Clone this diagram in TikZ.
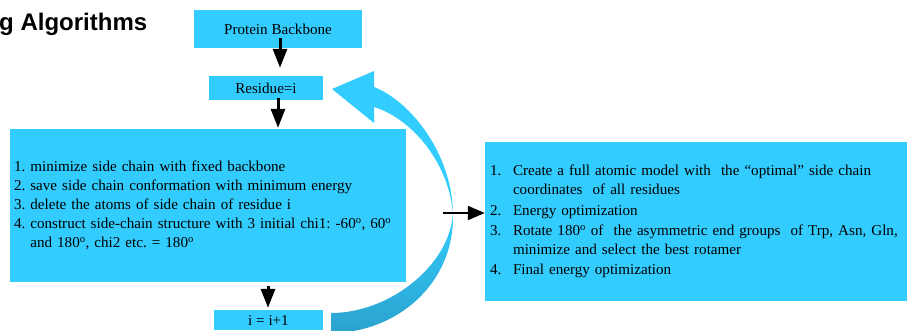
\documentclass[tikz,border=0pt]{standalone}
\usepackage{fontspec}
\setmainfont{Liberation Serif}
\newfontfamily\titlefont{Liberation Sans}
\usetikzlibrary{arrows.meta}
\definecolor{boxblue}{HTML}{33CCFF}
\definecolor{darkblue}{HTML}{2AA2CC}
\frenchspacing
\begin{document}
\begin{tikzpicture}[x=1pt,y=-1pt,
  box/.style={fill=boxblue, draw=none, inner sep=0pt, font=\fontsize{15.1}{18.9}\selectfont\frenchspacing},
  varr/.style={line width=3pt, -{Triangle[length=19pt,width=14pt]}},
  harr/.style={line width=2pt, -{Triangle[length=17pt,width=14pt]}}]
\clip (0,0) rectangle (907,330);
\node[anchor=base west, inner sep=0pt, font=\titlefont\bfseries\fontsize{24}{28}\selectfont] (title) at (-1,30.7) {g Algorithms};
\node[box, minimum width=168pt, minimum height=38pt] (pb) at (278,29) {Protein Backbone};
\node[box, minimum width=114pt, minimum height=24pt] (res) at (266,88) {Residue=i};
\node[box, minimum width=396pt, minimum height=153pt, text width=388pt, align=left] (L) at (208,205.5)
 {1. minimize side chain with fixed backbone\\
  2. save side chain conformation with minimum energy\\
  3. delete the atoms of side chain of residue i\\
  4. construct side-chain structure with 3 initial chi1: -60\textsuperscript{o}, 60\textsuperscript{o}\\
  \hphantom{4.\ }and 180\textsuperscript{o}, chi2 etc. = 180\textsuperscript{o}};
\node[box, minimum width=109pt, minimum height=20pt] (inc) at (268.5,320) {i = i+1};
\node[box, minimum width=422pt, minimum height=159pt, text width=412pt, align=left] (R) at (696,221.5)
 {\makebox[23pt][l]{1.}Create a full atomic model with\ \ the ``optimal'' side chain\\
  \hspace*{23pt}coordinates\ \ of all residues\\[1.4pt]
  \makebox[23pt][l]{2.}Energy optimization\\[1.4pt]
  \makebox[23pt][l]{3.}Rotate 180\textsuperscript{o} of\ \ the asymmetric end groups\ \ of Trp, Asn, Gln,\\
  \hspace*{23pt}minimize and select the best rotamer\\[1.4pt]
  \makebox[23pt][l]{4.}Final energy optimization};
% curved return arrow
\fill[boxblue] (332,89) -- (374,71) -- (374,87) .. controls (412,102) and (452,155) .. (453,213)
  .. controls (448,160) and (410,118) .. (374,107) -- (374,123) -- cycle;
\shade[top color=boxblue, bottom color=darkblue] (453,213) .. controls (450,265) and (390,313) .. (331,313)
  -- (331,333) .. controls (395,333) and (455,285) .. (453,213) -- cycle;
% arrows
\draw[varr] ([xshift=2pt,yshift=10pt]pb.south) -- ([xshift=2pt,yshift=8pt]pb.south |- res.north);
\draw[varr] ([xshift=12pt,yshift=2pt]res.south) -- ([xshift=12pt,yshift=1pt]res.south |- L.north);
\draw[varr] ([xshift=-0.5pt,yshift=-4pt]inc.north |- L.south) -- ([xshift=-0.5pt,yshift=2pt]inc.north);
\coordinate (hs) at (443,213);
\draw[harr] (hs) -- (hs -| R.west);
\end{tikzpicture}
\end{document}
